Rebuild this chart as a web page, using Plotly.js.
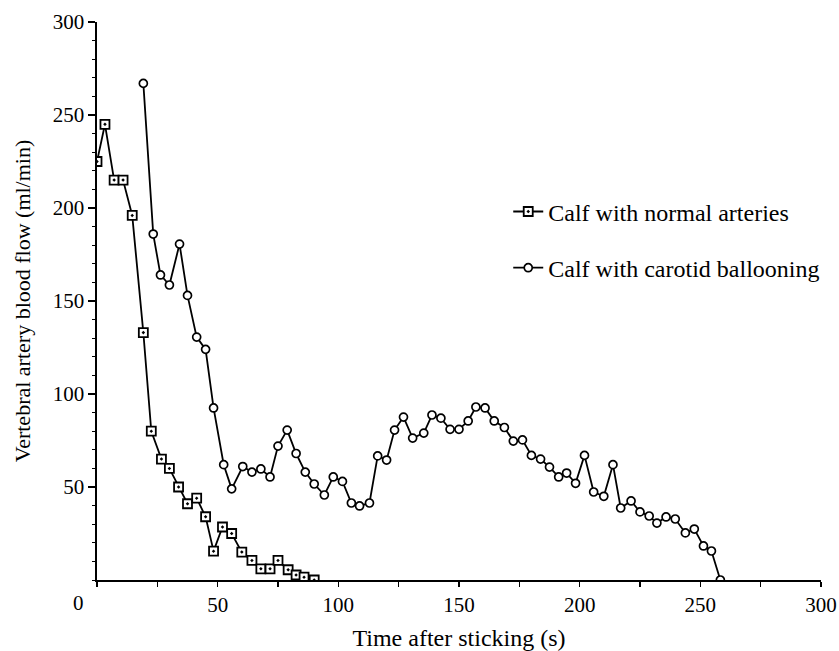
<!DOCTYPE html>
<html>
<head>
<meta charset="utf-8">
<script src="https://cdn.plot.ly/plotly-3.0.1.min.js"></script>
<style>html,body{margin:0;padding:0;background:#fff;}#chart{width:839px;height:651px;}</style>
</head>
<body>
<div id="chart"></div>
<script>
const normalTime = [0, 3.3, 7.1, 10.8, 14.6, 19.2, 22.5, 26.7, 30, 33.8, 37.5, 41.3, 45, 48.3, 52, 55.8, 60, 64.2, 67.9, 71.7, 75, 79.2, 82.5, 85.8, 90];
const normalFlow = [225, 245, 215, 215, 196, 133, 80, 65, 60, 50, 41, 44, 34, 15.5, 28.5, 25, 15, 10.5, 6, 6, 10.5, 5.5, 2.7, 1.5, 0];

const carotidTime = [19.2, 23.3, 26.3, 30, 34.2, 37.5, 41.3, 45, 48.3, 52.5, 55.8, 60.4, 64.2, 67.9, 71.7, 75, 78.8, 82.5, 86.3, 90, 94.2, 97.9, 101.7, 105.4, 108.8, 112.9, 116.3, 120, 123.3, 127, 130.8, 135.4, 138.8, 142.5, 146.3, 150, 153.8, 157, 160.8, 164.6, 168.8, 172.5, 176.3, 180, 183.8, 187.5, 191.3, 194.6, 198.3, 202, 205.8, 210, 213.8, 217, 221.3, 225, 228.8, 232, 235.8, 239.6, 243.8, 247.5, 251.3, 254.6, 258.3];
const carotidFlow = [267, 186, 164, 158.6, 180.6, 153, 130.6, 124, 92.5, 62, 49, 61, 58, 59.7, 55.4, 72, 80.6, 68, 58, 51.6, 45.7, 55.4, 53, 41.4, 39.8, 41.4, 66.7, 64.5, 80.6, 87.6, 76.3, 79, 88.7, 87, 81, 81, 85.5, 93, 92.5, 85.5, 82, 74.7, 75.3, 67, 65, 60.7, 55.4, 57.5, 52, 67, 47.3, 45, 62, 38.7, 42.5, 36.6, 34.4, 30.6, 33.9, 32.8, 25.3, 27.4, 18.3, 15.6, 0];

const seriesNames = ["Calf with normal arteries", "Calf with carotid ballooning"];
const xTickVals = [0, 25, 50, 75, 100, 125, 150, 175, 200, 225, 250, 275, 300];
const xTickText = ["", "", "50", "", "100", "", "150", "", "200", "", "250", "", "300"];
const yTickVals = [50, 100, 150, 200, 250, 300];
const xTitle = "Time after sticking (s)";
const yTitle = "Vertebral artery blood flow (ml/min)";

const serif = "Liberation Serif, Times New Roman, serif";

const traces = [
  {
    x: normalTime, y: normalFlow, name: seriesNames[0], legendgroup: "a",
    type: "scatter", mode: "lines+markers",
    line: {color: "#000", width: 1.8},
    marker: {symbol: "square-dot", size: 9, color: "#fff", line: {color: "#000", width: 1.8}},
    hoverinfo: "skip"
  },
  {
    x: carotidTime, y: carotidFlow, name: seriesNames[1], legendgroup: "b",
    type: "scatter", mode: "lines+markers",
    line: {color: "#000", width: 1.8},
    marker: {symbol: "circle", size: 8, color: "#fff", line: {color: "#000", width: 1.7}},
    hoverinfo: "skip"
  }
];

const layout = {
  width: 839, height: 651,
  margin: {l: 97, r: 18, t: 22, b: 71},
  paper_bgcolor: "#fff", plot_bgcolor: "#fff",
  font: {family: serif, color: "#000", size: 21},
  showlegend: true,
  legend: {
    x: 0.568, y: 0.70, xanchor: "left", yanchor: "top",
    bgcolor: "rgba(0,0,0,0)", borderwidth: 0,
    font: {family: serif, size: 24, color: "#000"},
    traceorder: "grouped", tracegroupgap: 22
  },
  xaxis: {
    range: [0, 300], showgrid: false, zeroline: false,
    showline: true, linecolor: "#000", linewidth: 1.6,
    tickvals: xTickVals, ticktext: xTickText,
    ticks: "outside", ticklen: 5, tickwidth: 1.4, tickcolor: "#000",
    tickfont: {family: serif, size: 21, color: "#000"},
    title: {text: xTitle, font: {family: serif, size: 24, color: "#000"}, standoff: 25}
  },
  yaxis: {
    range: [0, 300], showgrid: false, zeroline: false,
    showline: true, linecolor: "#000", linewidth: 1.6,
    tickvals: yTickVals,
    ticks: "outside", ticklen: 7, tickwidth: 1.4, tickcolor: "#000",
    minor: {dtick: 10, ticks: "outside", ticklen: 3, tickwidth: 1, tickcolor: "#000", showgrid: false},
    tickfont: {family: serif, size: 21, color: "#000"},
    title: {text: yTitle, font: {family: serif, size: 22, color: "#000"}, standoff: 16}
  },
  annotations: [
    {text: "0", xref: "paper", yref: "paper", x: -0.026, y: -0.041, showarrow: false,
     xanchor: "center", yanchor: "middle", font: {family: serif, size: 21, color: "#000"}}
  ]
};

Plotly.newPlot("chart", traces, layout, {displayModeBar: false, staticPlot: true});
</script>
</body>
</html>
